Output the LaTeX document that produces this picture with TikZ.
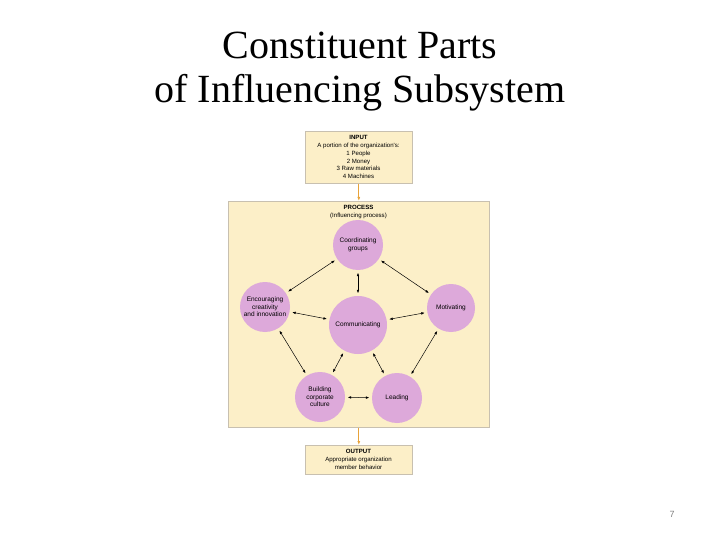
\documentclass[tikz,border=0pt]{standalone}
\usepackage{fontspec}
\setmainfont{Liberation Serif}
\newfontfamily\sansf{Liberation Sans}
\usetikzlibrary{arrows.meta}
\definecolor{boxfill}{HTML}{FCEFC8}
\definecolor{boxline}{HTML}{C8C0B0}
\definecolor{circfill}{HTML}{DDA9DA}
\definecolor{flowarrow}{HTML}{E8A33A}
\tikzset{
  infobox/.style={draw=boxline, fill=boxfill, line width=0.6pt},
  circ/.style={circle, fill=circfill, draw=none, inner sep=0pt, align=center,
    font=\sansf\fontsize{6.5}{7.4}\selectfont},
  link/.style={{Latex[length=3.5pt,width=2.6pt]}-{Latex[length=3.5pt,width=2.6pt]}, line width=0.5pt, shorten <=2.5pt, shorten >=2.5pt},
  flow/.style={-{Latex[length=4pt,width=3pt]}, draw=flowarrow, line width=0.8pt},
  small/.style={font=\sansf\fontsize{6.1}{7.9}\selectfont, align=center, inner sep=0pt},
  title/.style={font=\fontsize{40}{48}\selectfont, inner sep=0pt}
}
\begin{document}
\begin{tikzpicture}[x=1pt,y=-1pt]
\useasboundingbox (0,0) rectangle (720,540);
% title
\node[title] (t1) at (360,45) {Constituent Parts};
\node[title] (t2) at (360,93) {of Influencing Subsystem};
% boxes
\node[infobox, minimum width=107, minimum height=52, anchor=north west, inner sep=0pt] (input) at (305,131) {};
\node[small, anchor=north] (inputtxt) at (358.5,135) {\textbf{INPUT}\\A portion of the organization's:\\1 People\\2 Money\\3 Raw materials\\4 Machines};
\node[infobox, minimum width=261, minimum height=226, anchor=north west, inner sep=0pt] (process) at (228,201) {};
\node[small, anchor=north] (proctxt) at (358.5,205) {\textbf{PROCESS}\\(Influencing process)};
\node[infobox, minimum width=107, minimum height=29, anchor=north west, inner sep=0pt] (output) at (305,445) {};
\node[small, anchor=north] (outtxt) at (358.5,449) {\textbf{OUTPUT}\\Appropriate organization\\member behavior};
% flow arrows
\draw[flow] (input.south) -- (process.north);
\draw[flow] (process.south) -- (output.north);
% circles
\node[circ, minimum size=50] (coord) at (358,245) {Coordinating\\groups};
\node[circ, minimum size=50] (enc) at (265,307) {Encouraging\\creativity\\and innovation};
\node[circ, minimum size=48] (mot) at (451,308) {Motivating};
\node[circ, minimum size=58] (comm) at (358,325) {Communicating};
\node[circ, minimum size=50] (build) at (320,397) {Building\\corporate\\culture};
\node[circ, minimum size=50] (lead) at (397,398) {Leading};
% links
\draw[link] (coord) -- (enc);
\draw[link] (coord) -- (mot);
\draw[link] (coord) -- (comm);
\draw[link] (enc) -- (comm);
\draw[link] (mot) -- (comm);
\draw[link] (enc) -- (build);
\draw[link] (comm) -- (build);
\draw[link] (comm) -- (lead);
\draw[link] (mot) -- (lead);
\draw[link] (build) -- (lead);
% page number
\node[font=\sansf\fontsize{9}{10}\selectfont, text=gray, inner sep=0pt] (pnum) at (672,514) {7};
\end{tikzpicture}
\end{document}
